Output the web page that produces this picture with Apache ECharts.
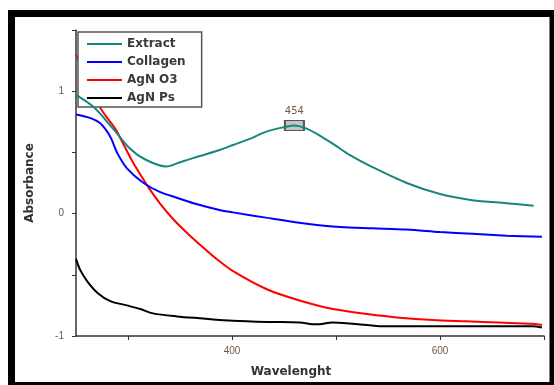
<!DOCTYPE html>
<html>
<head>
<meta charset="utf-8">
<script src="https://cdn.jsdelivr.net/npm/echarts@6/dist/echarts.min.js"></script>
<style>
  html, body { margin: 0; padding: 0; background: #fff; }
  #chart { width: 554px; height: 385px; }
</style>
</head>
<body>
<div id="chart"></div>
<script>
// values (wavelength, absorbance)
const extractX = [250, 267, 286, 302, 317, 337, 350, 369, 388, 401, 417, 433, 452, 460, 470, 484, 499, 513, 535, 568, 600, 631, 664, 690];
const extractY = [0.97, 0.87, 0.69, 0.53, 0.44, 0.385, 0.42, 0.47, 0.52, 0.56, 0.61, 0.67, 0.71, 0.72, 0.70, 0.64, 0.56, 0.48, 0.38, 0.25, 0.16, 0.11, 0.085, 0.065];

const collagenX = [250, 264, 273, 280, 284, 290, 299, 315, 331, 347, 363, 388, 401, 434, 470, 504, 535, 568, 600, 631, 664, 698];
const collagenY = [0.81, 0.78, 0.74, 0.67, 0.61, 0.49, 0.37, 0.25, 0.175, 0.13, 0.085, 0.03, 0.01, -0.035, -0.08, -0.11, -0.12, -0.13, -0.15, -0.165, -0.18, -0.19];

const agno3X = [250, 273, 288, 296, 304, 314, 320, 331, 344, 357, 370, 385, 401, 434, 465, 497, 530, 561, 593, 625, 657, 689, 698];
const agno3Y = [1.30, 0.87, 0.69, 0.56, 0.43, 0.29, 0.21, 0.08, -0.05, -0.16, -0.26, -0.37, -0.47, -0.62, -0.71, -0.78, -0.82, -0.85, -0.87, -0.88, -0.89, -0.90, -0.91];

const agnpsX = [250, 254, 261, 271, 283, 299, 312, 324, 347, 369, 401, 434, 465, 481, 497, 530, 542, 593, 689, 698];
const agnpsY = [-0.37, -0.46, -0.555, -0.65, -0.715, -0.75, -0.78, -0.815, -0.84, -0.855, -0.875, -0.885, -0.89, -0.905, -0.89, -0.91, -0.92, -0.92, -0.92, -0.93];

const names = ["Extract", "Collagen", "AgN O3", "AgN Ps"];
const colors = ["#17877d", "#0000ff", "#ff0000", "#000000"];

const xTicks = [300, 400, 500, 600, 700];
const xLabels = [400, 600];
const yTicks = [-1, -0.5, 0, 0.5, 1, 1.5];
const yLabels = [-1, 0, 1];

const peakX = 460;
const peakY = 0.72;
const peakLabel = "454";

const pairs = (xs, ys) => xs.map((x, i) => [x, ys[i]]);
const allX = [extractX, collagenX, agno3X, agnpsX];
const allY = [extractY, collagenY, agno3Y, agnpsY];

const chart = echarts.init(document.getElementById("chart"), null, { renderer: "canvas" });

const tickColor = "#6a5a4a";
const axisColor = "#333";

chart.setOption({
  animation: false,
  backgroundColor: "#fff",
  grid: { left: 76, top: 30, width: 468, height: 306 },
  graphic: [
    {
      type: "rect",
      shape: { x: 11.5, y: 13.5, width: 541.5, height: 372 },
      style: { fill: "none", stroke: "#000", lineWidth: 7 },
      z: 100
    }
  ],
  legend: {
    orient: "vertical",
    left: 78,
    top: 32,
    padding: [5, 16, 2, 9],
    icon: "rect",
    itemWidth: 35,
    itemHeight: 2,
    itemGap: 4,
    backgroundColor: "#fff",
    borderColor: "#555",
    borderWidth: 1.5,
    borderRadius: 0,
    textStyle: { fontFamily: "DejaVu Sans", fontSize: 12, lineHeight: 14, color: "#3a3a3a", fontWeight: "bold" },
    data: names
  },
  xAxis: {
    type: "value",
    min: 250,
    max: 700,
    interval: 50,
    name: "Wavelenght",
    nameLocation: "middle",
    nameGap: 30,
    nameTextStyle: { fontFamily: "DejaVu Sans", fontSize: 12, color: "#333", fontWeight: "bold", padding: [0, 38, 0, 0] },
    splitLine: { show: false },
    axisLine: { onZero: false, lineStyle: { color: axisColor, width: 1.5 } },
    axisTick: { show: true, inside: false, length: 4, customValues: xTicks, lineStyle: { color: axisColor } },
    axisLabel: { margin: 10, customValues: xLabels, fontFamily: "Liberation Sans", fontSize: 10, color: tickColor }
  },
  yAxis: {
    type: "value",
    min: -1,
    max: 1.5,
    interval: 0.5,
    name: "Absorbance",
    nameLocation: "middle",
    nameGap: 40,
    nameTextStyle: { fontFamily: "DejaVu Sans", fontSize: 12, color: "#333", fontWeight: "bold" },
    splitLine: { show: false },
    axisLine: { onZero: false, lineStyle: { color: axisColor, width: 1.5 } },
    axisTick: { show: true, inside: false, length: 4, customValues: yTicks, lineStyle: { color: axisColor } },
    axisLabel: { margin: 12, customValues: yLabels, fontFamily: "Liberation Sans", fontSize: 10, color: tickColor }
  },
  series: names.map((n, i) => {
    const s = {
      name: n,
      type: "line",
      symbol: "none",
      smooth: 0.3,
      z: 2 + (3 - i),
      lineStyle: { color: colors[i], width: 2 },
      itemStyle: { color: colors[i] },
      data: pairs(allX[i], allY[i])
    };
    if (i === 0) {
      s.markPoint = {
        symbol: "rect",
        symbolSize: [19, 10],
        itemStyle: { color: "#c4c4c4", borderColor: "#555", borderWidth: 1.5 },
        label: { show: true, position: "top", distance: 4, formatter: peakLabel, fontFamily: "DejaVu Sans", fontSize: 10, color: tickColor },
        data: [{ coord: [peakX, peakY] }]
      };
    }
    return s;
  })
});
</script>
</body>
</html>
